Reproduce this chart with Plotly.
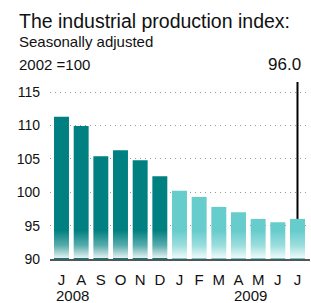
import base64
import plotly.graph_objects as go

# ---- data ----
months = ["J", "A", "S", "O", "N", "D", "J", "F", "M", "A", "M", "J", "J"]
years = [2008] * 6 + [2009] * 7
values = [111.3, 109.9, 105.4, 106.3, 104.8, 102.4, 100.2, 99.3, 97.8, 97.0, 96.0, 95.5, 96.0]
y_ticks = [90, 95, 100, 105, 110, 115]
year_labels = ["2008", "2009"]

title = "The industrial production index:"
subtitle1 = "Seasonally adjusted"
subtitle2 = "2002 =100"

# ---- styling ----
W, H = 311, 303
ML, MR, MT, MB = 50, 1, 82, 44
PW, PH = W - ML - MR, H - MT - MB
FONT = "Liberation Sans, Arial, Helvetica, sans-serif"
DARK = "#008080"
LIGHT = "#66CCCC"
YMIN, YMAX = 90, 116.5

def px_to_px(x):
    return (x - ML) / PW

def py_to_py(y):
    return (H - MB - y) / PH

x = list(range(len(values)))
colors = [DARK if yr == 2008 else LIGHT for yr in years]

fig = go.Figure()
fig.add_trace(go.Bar(
    x=x, y=[v - YMIN for v in values], base=YMIN,
    marker=dict(color=colors, line=dict(width=0)),
    width=0.76, hoverinfo="skip",
))

# white fade at the bottom of the bars (SVG gradient image)
svg = (
    '<svg xmlns="http://www.w3.org/2000/svg" width="100" height="100" preserveAspectRatio="none">'
    '<defs><linearGradient id="g" x1="0" y1="1" x2="0" y2="0">'
    '<stop offset="0" stop-color="white" stop-opacity="0.9"/>'
    '<stop offset="0.45" stop-color="white" stop-opacity="0.35"/>'
    '<stop offset="1" stop-color="white" stop-opacity="0"/>'
    '</linearGradient></defs>'
    '<rect x="0" y="0" width="100" height="100" fill="url(#g)"/></svg>'
)
src = "data:image/svg+xml;base64," + base64.b64encode(svg.encode()).decode()
g0, g1 = 90.15, 94.3

shapes = [dict(type="line", xref="x", yref="y", x0=x[-1], x1=x[-1],
               y0=values[-1], y1=YMAX, line=dict(color="black", width=2), layer="above")]

annotations = [
    dict(text=title, xref="paper", yref="paper", x=px_to_px(17), y=py_to_py(20.5),
         xanchor="left", yanchor="middle", showarrow=False,
         font=dict(family=FONT, size=19.5, color="#111")),
    dict(text=subtitle1, xref="paper", yref="paper", x=px_to_px(17), y=py_to_py(41.5),
         xanchor="left", yanchor="middle", showarrow=False,
         font=dict(family=FONT, size=15, color="#111")),
    dict(text=subtitle2, xref="paper", yref="paper", x=px_to_px(17), y=py_to_py(64),
         xanchor="left", yanchor="middle", showarrow=False,
         font=dict(family=FONT, size=15, color="#111")),
    dict(text=f"{values[-1]:.1f}", xref="x", yref="paper", x=x[-1], xshift=6,
         y=py_to_py(64), xanchor="right", yanchor="middle", showarrow=False,
         font=dict(family=FONT, size=17, color="#111")),
    dict(text=year_labels[0], xref="x", yref="paper", x=-0.38, y=py_to_py(295),
         xanchor="left", yanchor="middle", showarrow=False,
         font=dict(family=FONT, size=15, color="#111")),
    dict(text=year_labels[1], xref="x", yref="paper", x=9.6, y=py_to_py(295),
         xanchor="center", yanchor="middle", showarrow=False,
         font=dict(family=FONT, size=15, color="#111")),
]

fig.update_layout(
    width=W, height=H, margin=dict(l=ML, r=MR, t=MT, b=MB),
    paper_bgcolor="white", plot_bgcolor="white", showlegend=False,
    shapes=shapes, annotations=annotations,
    images=[dict(source=src, xref="paper", yref="y", x=0, y=g1, sizex=1, sizey=g1 - g0,
                 xanchor="left", yanchor="top", sizing="stretch", layer="above")],
    xaxis=dict(range=[-0.585, 12.636], tickvals=x, ticktext=months,
               showgrid=False, zeroline=False, showline=True, linecolor="#555", linewidth=2,
               ticks="", ticklabelstandoff=6,
               tickfont=dict(family=FONT, size=15, color="#111"), fixedrange=True),
    yaxis=dict(range=[YMIN, YMAX], tickvals=y_ticks, showgrid=True, gridcolor="#999",
               griddash="1px,4px", gridwidth=1, zeroline=False, showline=False, ticks="",
               ticklabelstandoff=9,
               tickfont=dict(family=FONT, size=14, color="#111"), fixedrange=True),
)

fig.write_html("out.html", config={"displayModeBar": False},
               post_script="document.body.style.margin='0';document.body.style.overflow='hidden';")
